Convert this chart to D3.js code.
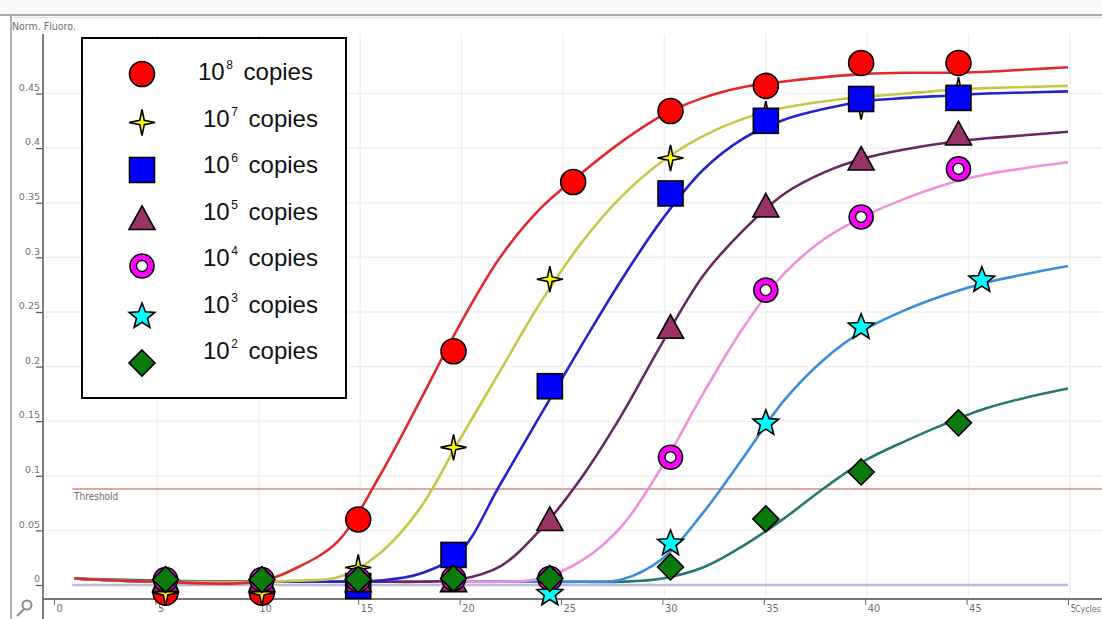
<!DOCTYPE html>
<html>
<head>
<meta charset="utf-8">
<script src="https://cdn.jsdelivr.net/npm/d3@7"></script>
<style>
  body { margin: 0; background: #ffffff; }
  svg { display: block; }
</style>
</head>
<body>
<svg id="chart" width="1102" height="619"></svg>
<script>
// ---- data -------------------------------------------------------------
// amplification curves sampled at these cycles (normalised fluorescence)
const cycles = [1, 5, 10, 12, 14, 16, 18, 20, 22, 24, 26, 28, 30, 32, 34, 36, 38, 40, 42, 44, 46, 48, 50];

const curve1e8 = [0.006, 0.003, 0.003, 0.016, 0.040, 0.098, 0.167, 0.238, 0.300, 0.345, 0.377, 0.406, 0.430, 0.446, 0.456, 0.461, 0.465, 0.468, 0.469, 0.469, 0.470, 0.472, 0.474];
const curve1e7 = [0.006, 0.003, 0.003, 0.004, 0.007, 0.028, 0.069, 0.133, 0.196, 0.259, 0.313, 0.356, 0.388, 0.411, 0.427, 0.437, 0.443, 0.447, 0.450, 0.453, 0.455, 0.456, 0.457];
const curve1e6 = [0.006, 0.003, 0.003, 0.003, 0.003, 0.004, 0.010, 0.030, 0.092, 0.156, 0.219, 0.280, 0.335, 0.380, 0.409, 0.426, 0.436, 0.443, 0.446, 0.448, 0.450, 0.451, 0.452];
const curve1e5 = [0.006, 0.003, 0.003, 0.003, 0.003, 0.003, 0.003, 0.005, 0.017, 0.051, 0.098, 0.156, 0.222, 0.283, 0.325, 0.358, 0.378, 0.391, 0.399, 0.405, 0.409, 0.412, 0.415];
const curve1e4 = [0.006, 0.003, 0.003, 0.003, 0.003, 0.003, 0.003, 0.003, 0.003, 0.006, 0.022, 0.054, 0.109, 0.175, 0.236, 0.285, 0.317, 0.338, 0.354, 0.367, 0.376, 0.382, 0.387];
const curve1e3 = [0.006, 0.003, 0.003, 0.003, 0.003, 0.003, 0.003, 0.003, 0.003, 0.003, 0.003, 0.005, 0.024, 0.066, 0.117, 0.169, 0.207, 0.234, 0.252, 0.266, 0.277, 0.285, 0.292];
const curve1e2 = [0.006, 0.004, 0.003, 0.003, 0.003, 0.003, 0.003, 0.003, 0.003, 0.003, 0.003, 0.003, 0.006, 0.016, 0.036, 0.061, 0.089, 0.114, 0.132, 0.148, 0.162, 0.172, 0.180];

// measured points for each dilution: cycle and fluorescence
const pts1e8Cycle = [5.5, 10.25, 15, 19.7, 25.6, 30.4, 35.1, 39.8, 44.6];
const pts1e8Value = [-0.007, -0.007, 0.060, 0.214, 0.369, 0.434, 0.457, 0.478, 0.478];
const pts1e7Cycle = [5.5, 10.25, 15, 19.7, 24.45, 30.4, 35.1, 39.8, 44.6];
const pts1e7Value = [-0.007, -0.007, 0.016, 0.126, 0.280, 0.391, 0.431, 0.438, 0.453];
const pts1e6Cycle = [15, 19.7, 24.45, 30.4, 35.1, 39.8, 44.6];
const pts1e6Value = [-0.001, 0.0275, 0.182, 0.3585, 0.425, 0.445, 0.446];
const pts1e5Cycle = [5.5, 10.25, 15, 19.7, 24.45, 30.4, 35.1, 39.8, 44.6];
const pts1e5Value = [0.004, 0.004, 0.004, 0.004, 0.060, 0.236, 0.347, 0.390, 0.413];
const pts1e4Cycle = [5.5, 10.25, 15, 19.7, 24.45, 30.4, 35.1, 39.8, 44.6];
const pts1e4Value = [0.005, 0.005, 0.005, 0.006, 0.006, 0.117, 0.270, 0.337, 0.381];
const pts1e3Cycle = [24.45, 30.4, 35.1, 39.8, 45.75];
const pts1e3Value = [-0.008, 0.038, 0.148, 0.236, 0.279];
const pts1e2Cycle = [5.5, 10.25, 15, 19.7, 24.45, 30.4, 35.1, 39.8, 44.6];
const pts1e2Value = [0.005, 0.005, 0.005, 0.006, 0.006, 0.0165, 0.0605, 0.1035, 0.1485];

const exponents = ["8", "7", "6", "5", "4", "3", "2"];
const thresholdValue = 0.088;

const yTickValues = [0, 0.05, 0.1, 0.15, 0.2, 0.25, 0.3, 0.35, 0.4, 0.45];
const yTickLabels = ["0", "0.05", "0.1", "0.15", "0.2", "0.25", "0.3", "0.35", "0.4", "0.45"];
const xTickValues = [0, 5, 10, 15, 20, 25, 30, 35, 40, 45, 50];
const xTickLabels = ["0", "5", "10", "15", "20", "25", "30", "35", "40", "45", "50"];

// ---- series table ------------------------------------------------------
const curveValues = [curve1e8, curve1e7, curve1e6, curve1e5, curve1e4, curve1e3, curve1e2];
const pointCycles = [pts1e8Cycle, pts1e7Cycle, pts1e6Cycle, pts1e5Cycle, pts1e4Cycle, pts1e3Cycle, pts1e2Cycle];
const pointValues = [pts1e8Value, pts1e7Value, pts1e6Value, pts1e5Value, pts1e4Value, pts1e3Value, pts1e2Value];
const lineColors = ["#e02a2a", "#c6c648", "#2323cf", "#6a2766", "#ee90df", "#3b8cd9", "#27786f"];
const markerKinds = ["circle", "sparkle", "square", "triangle", "ring", "star", "diamond"];
const markerFills = ["#ff0000", "#ffff00", "#0000ff", "#993366", "#ff00ff", "#00ffff", "#0a7a0a"];

const series = exponents.map((e, i) => ({
  exponent: e,
  curve: cycles.map((c, j) => ({ c, v: curveValues[i][j] })),
  points: pointCycles[i].map((c, j) => ({ c, v: pointValues[i][j] })),
  lineColor: lineColors[i],
  kind: markerKinds[i],
  fill: markerFills[i]
}));

// ---- scales ------------------------------------------------------------
const x = d3.scaleLinear().domain([0, 50]).range([54, 1068]);
const y = d3.scaleLinear().domain([-0.01282, 0.5045]).range([599, 34]);

const svg = d3.select("#chart");
const W = 1102, H = 619;

// window frame
svg.append("rect").attr("x", 0).attr("y", 0).attr("width", W).attr("height", 14).attr("fill", "#fbf8f8");
svg.append("line").attr("x1", 0).attr("x2", W).attr("y1", 15).attr("y2", 15)
  .attr("stroke", "#a9a9a9").attr("stroke-width", 2);
svg.append("line").attr("x1", 12).attr("x2", W).attr("y1", 17.5).attr("y2", 17.5)
  .attr("stroke", "#e2e2e2").attr("stroke-width", 1.5);
svg.append("line").attr("x1", 11).attr("x2", 11).attr("y1", 15).attr("y2", H)
  .attr("stroke", "#9a9a9a").attr("stroke-width", 1.5);

// faint grid
const grid = svg.append("g").attr("stroke", "#f0f0f0").attr("stroke-width", 1.5);
grid.selectAll("line.v").data(xTickValues.slice(1)).join("line")
  .attr("x1", d => x(d) + 2).attr("x2", d => x(d) + 2)
  .attr("y1", 34).attr("y2", 597);
grid.selectAll("line.h").data(yTickValues.slice(1)).join("line")
  .attr("x1", 45).attr("x2", W)
  .attr("y1", d => y(d)).attr("y2", d => y(d));

// axis title
svg.append("text").attr("x", 12).attr("y", 30)
  .attr("font-family", "DejaVu Sans Condensed, DejaVu Sans, sans-serif")
  .attr("font-size", 10.5).attr("fill", "#6e6e6e").text("Norm. Fluoro.");

// y axis
const yAxis = d3.axisLeft(y).tickValues(yTickValues)
  .tickFormat((d, i) => yTickLabels[i]).tickSize(7).tickPadding(-4);
const gy = svg.append("g").attr("transform", "translate(43,0)").call(yAxis);
gy.select(".domain").remove();
gy.selectAll(".tick line").attr("stroke", "#555").attr("stroke-width", 1.2);
gy.selectAll(".tick text").attr("dy", "-0.35em")
  .attr("font-family", "DejaVu Sans, sans-serif").attr("font-size", 9.5).attr("fill", "#707070");
svg.append("line").attr("x1", 43).attr("x2", 43).attr("y1", 34).attr("y2", H)
  .attr("stroke", "#555").attr("stroke-width", 1.5);

// x axis
const xAxis = d3.axisBottom(x).tickValues(xTickValues)
  .tickFormat((d, i) => xTickLabels[i]).tickSize(6);
const gx = svg.append("g").attr("transform", "translate(0,599)").call(xAxis);
gx.select(".domain").remove();
gx.selectAll(".tick line").attr("stroke", "#666").attr("stroke-width", 1);
gx.selectAll(".tick text").attr("x", 2).attr("y", 13).attr("dy", 0)
  .attr("text-anchor", "start")
  .attr("font-family", "DejaVu Sans Condensed, DejaVu Sans, sans-serif")
  .attr("font-size", 11).attr("fill", "#707070");
svg.append("line").attr("x1", 43).attr("x2", W).attr("y1", 599).attr("y2", 599)
  .attr("stroke", "#777").attr("stroke-width", 2);
svg.append("rect").attr("x", 1075).attr("y", 602).attr("width", 27).attr("height", 14).attr("fill", "#fff");
svg.append("text").attr("x", 1075).attr("y", 612)
  .attr("font-family", "DejaVu Sans Condensed, DejaVu Sans, sans-serif")
  .attr("font-size", 8.8).attr("fill", "#707070").text("Cycles");

// small tool icon in the corner
const icon = svg.append("g").attr("stroke", "#8a8a8a").attr("fill", "none").attr("stroke-width", 2);
icon.append("circle").attr("cx", 27).attr("cy", 605).attr("r", 4.5);
icon.append("line").attr("x1", 24).attr("y1", 609).attr("x2", 17).attr("y2", 616);

// threshold
svg.append("line").attr("x1", x(0.9)).attr("x2", W)
  .attr("y1", y(thresholdValue)).attr("y2", y(thresholdValue))
  .attr("stroke", "#e6a3a3").attr("stroke-width", 2);
svg.append("text").attr("x", 74).attr("y", y(thresholdValue) + 11)
  .attr("font-family", "DejaVu Sans Condensed, DejaVu Sans, sans-serif")
  .attr("font-size", 10).attr("fill", "#6a6a6a").text("Threshold");

// zero baseline
svg.append("line").attr("x1", x(0.9)).attr("x2", x(50))
  .attr("y1", y(0)).attr("y2", y(0))
  .attr("stroke", "#bdb8d8").attr("stroke-width", 2.5);

// amplification curves
const line = d3.line().x(d => x(d.c)).y(d => y(d.v)).curve(d3.curveCatmullRom.alpha(0.5));
svg.append("g").selectAll("path").data(series.slice().reverse()).join("path")
  .attr("d", d => line(d.curve))
  .attr("fill", "none").attr("stroke", d => d.lineColor)
  .attr("stroke-width", 2.6).attr("stroke-linejoin", "round");

// marker shapes
function starPath(points, outer, inner) {
  const p = d3.path();
  for (let i = 0; i < points * 2; i++) {
    const r = i % 2 === 0 ? outer : inner;
    const a = -Math.PI / 2 + i * Math.PI / points;
    const px = r * Math.cos(a), py = r * Math.sin(a);
    if (i === 0) p.moveTo(px, py); else p.lineTo(px, py);
  }
  p.closePath();
  return p.toString();
}
function drawMarker(g, kind, fill) {
  let el;
  if (kind === "circle") {
    el = g.append("circle").attr("r", 12.5);
  } else if (kind === "square") {
    el = g.append("rect").attr("x", -12.5).attr("y", -12.5).attr("width", 25).attr("height", 25);
  } else if (kind === "triangle") {
    el = g.append("path").attr("d", "M0,-12.5L13,11L-13,11Z");
  } else if (kind === "diamond") {
    el = g.append("path").attr("d", "M0,-13L13,0L0,13L-13,0Z");
  } else if (kind === "sparkle") {
    el = g.append("path").attr("d", starPath(4, 13, 3.2));
  } else if (kind === "star") {
    el = g.append("path").attr("d", starPath(5, 13.5, 5.8));
  } else if (kind === "ring") {
    el = g.append("circle").attr("r", 12);
    g.append("circle").attr("r", 5.5).attr("fill", "#fff")
      .attr("stroke", "#000").attr("stroke-width", 1.4);
    el.lower();
  }
  el.attr("fill", fill).attr("stroke", "#000").attr("stroke-width", 1.6).attr("stroke-linejoin", "miter");
}

const markerLayer = svg.append("g");
series.forEach(sr => {
  markerLayer.append("g").selectAll("g").data(sr.points).join("g")
    .attr("transform", d => `translate(${x(d.c)},${y(d.v)})`)
    .each(function () { drawMarker(d3.select(this), sr.kind, sr.fill); });
});

// legend
const legend = svg.append("g");
legend.append("rect").attr("x", 82).attr("y", 38).attr("width", 264).attr("height", 360)
  .attr("fill", "#fff").attr("stroke", "#000").attr("stroke-width", 2);
const rowY = d3.scaleLinear().domain([0, 6]).range([80, 359]);
const symbolShift = [-6, -4, -3, -1, 0, 4, 4];
series.forEach((sr, i) => {
  const gSym = legend.append("g").attr("transform", `translate(142,${rowY(i) + symbolShift[i]})`);
  drawMarker(gSym, sr.kind, sr.fill);
  const t = legend.append("text").attr("x", i === 0 ? 198 : 203).attr("y", rowY(i))
    .attr("font-family", "Liberation Sans, Arial, sans-serif").attr("font-size", 24).attr("fill", "#111");
  t.append("tspan").text("10");
  t.append("tspan").attr("font-size", 12).attr("dy", -11).attr("dx", 1.5).text(sr.exponent);
  t.append("tspan").attr("dy", 11).attr("dx", 4).text(" copies");
});
</script>
</body>
</html>
